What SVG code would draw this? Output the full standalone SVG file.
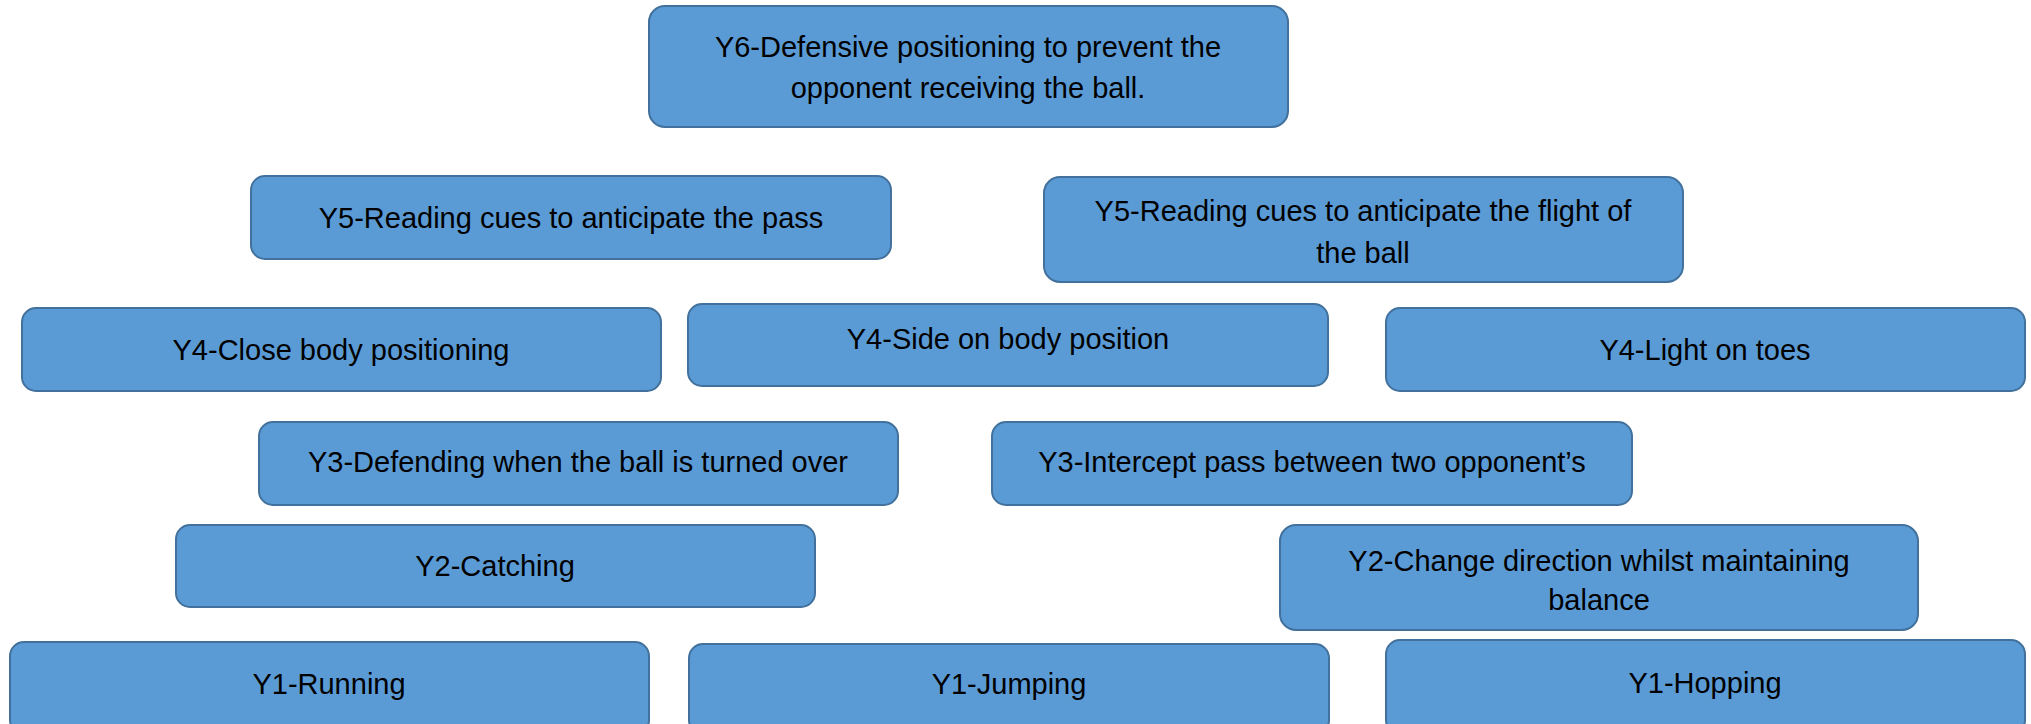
<svg xmlns="http://www.w3.org/2000/svg" width="2031" height="724" viewBox="0 0 2031 724">
<style>
.box{fill:#5B9BD5;stroke:#41719C;stroke-width:2}
.t{font-family:"Liberation Sans",Arial,sans-serif;font-size:29px;fill:#000;text-anchor:middle}
</style>
<rect width="2031" height="724" fill="#fff"/>
<g id="connectors"/>
<g id="y6"><rect class="box" x="649" y="6" width="639" height="121" rx="16"/><text class="t" x="968" y="57">Y6-Defensive positioning to prevent the</text><text class="t" x="968" y="98">opponent receiving the ball.</text></g>
<g id="y5a"><rect class="box" x="251" y="176" width="640" height="83" rx="14"/><text class="t" x="571" y="228">Y5-Reading cues to anticipate the pass</text></g>
<g id="y5b"><rect class="box" x="1044" y="177" width="639" height="105" rx="16"/><text class="t" x="1363" y="221">Y5-Reading cues to anticipate the flight of</text><text class="t" x="1363" y="263">the ball</text></g>
<g id="y4a"><rect class="box" x="22" y="308" width="639" height="83" rx="14"/><text class="t" x="341" y="360">Y4-Close body positioning</text></g>
<g id="y4b"><rect class="box" x="688" y="304" width="640" height="82" rx="14"/><text class="t" x="1008" y="349">Y4-Side on body position</text></g>
<g id="y4c"><rect class="box" x="1386" y="308" width="639" height="83" rx="14"/><text class="t" x="1705" y="360">Y4-Light on toes</text></g>
<g id="y3a"><rect class="box" x="259" y="422" width="639" height="83" rx="14"/><text class="t" x="578" y="472">Y3-Defending when the ball is turned over</text></g>
<g id="y3b"><rect class="box" x="992" y="422" width="640" height="83" rx="14"/><text class="t" x="1312" y="472">Y3-Intercept pass between two opponent’s</text></g>
<g id="y2a"><rect class="box" x="176" y="525" width="639" height="82" rx="14"/><text class="t" x="495" y="576">Y2-Catching</text></g>
<g id="y2b"><rect class="box" x="1280" y="525" width="638" height="105" rx="16"/><text class="t" x="1599" y="571">Y2-Change direction whilst maintaining</text><text class="t" x="1599" y="610">balance</text></g>
<g id="y1a"><rect class="box" x="10" y="642" width="639" height="92" rx="14"/><text class="t" x="329" y="694">Y1-Running</text></g>
<g id="y1b"><rect class="box" x="689" y="644" width="640" height="90" rx="14"/><text class="t" x="1009" y="694">Y1-Jumping</text></g>
<g id="y1c"><rect class="box" x="1386" y="640" width="639" height="94" rx="14"/><text class="t" x="1705" y="693">Y1-Hopping</text></g>
</svg>
